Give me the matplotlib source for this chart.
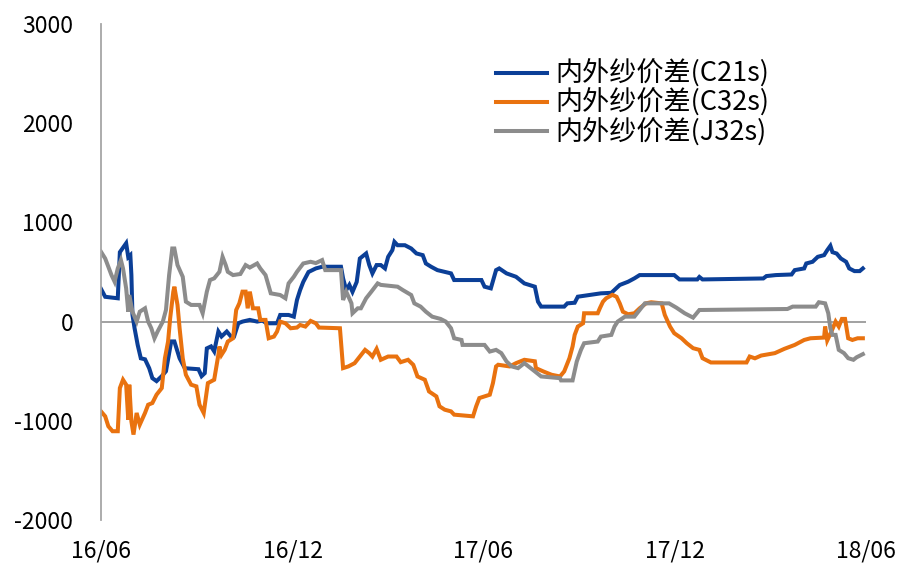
import matplotlib
matplotlib.use("Agg")
import matplotlib.pyplot as plt
import matplotlib.dates as mdates
import pandas as pd

plt.rcParams['font.family'] = ['Noto Sans CJK SC', 'DejaVu Sans']
plt.rcParams['axes.unicode_minus'] = False

# 内外纱价差(C21s)
c21_dates = ['2016-06-01', '2016-06-05', '2016-06-17', '2016-06-19', '2016-06-25', '2016-06-27',
             '2016-06-29', '2016-06-30', '2016-07-01', '2016-07-03', '2016-07-06', '2016-07-09',
             '2016-07-13', '2016-07-17', '2016-07-20', '2016-07-24', '2016-07-29', '2016-08-02',
             '2016-08-07', '2016-08-10', '2016-08-15', '2016-08-20', '2016-09-02', '2016-09-05',
             '2016-09-08', '2016-09-10', '2016-09-14', '2016-09-17', '2016-09-21', '2016-09-24',
             '2016-09-29', '2016-10-03', '2016-10-06', '2016-10-10', '2016-10-14', '2016-10-21',
             '2016-10-28', '2016-11-02', '2016-11-06', '2016-11-16', '2016-11-19', '2016-11-27',
             '2016-12-02', '2016-12-05', '2016-12-08', '2016-12-11', '2016-12-16', '2016-12-23',
             '2016-12-29', '2017-01-16', '2017-01-18', '2017-01-21', '2017-01-24', '2017-01-27',
             '2017-01-31', '2017-02-03', '2017-02-09', '2017-02-12', '2017-02-15', '2017-02-19',
             '2017-02-23', '2017-02-27', '2017-03-02', '2017-03-06', '2017-03-08', '2017-03-11',
             '2017-03-18', '2017-03-24', '2017-03-29', '2017-04-04', '2017-04-07', '2017-04-12',
             '2017-04-18', '2017-05-01', '2017-05-04', '2017-05-30', '2017-06-02', '2017-06-08',
             '2017-06-13', '2017-06-16', '2017-06-23', '2017-07-02', '2017-07-10', '2017-07-20',
             '2017-07-23', '2017-07-26', '2017-08-17', '2017-08-20', '2017-08-27', '2017-08-30',
             '2017-09-21', '2017-10-01', '2017-10-09', '2017-10-17', '2017-10-23', '2017-10-28',
             '2017-11-30', '2017-12-05', '2017-12-22', '2017-12-24', '2017-12-27', '2018-02-23',
             '2018-02-26', '2018-03-07', '2018-03-22', '2018-03-25', '2018-04-03', '2018-04-05',
             '2018-04-11', '2018-04-16', '2018-04-22', '2018-04-25', '2018-04-28', '2018-04-30',
             '2018-05-04', '2018-05-08', '2018-05-13', '2018-05-16', '2018-05-21', '2018-05-26',
             '2018-05-29']
c21_vals = [330, 250, 235, 700, 790, 650,
            670, 470, 70, -65, -235, -370,
            -380, -470, -570, -600, -550, -500,
            -200, -200, -370, -470, -480, -550,
            -520, -270, -250, -300, -100, -150,
            -100, -150, -150, -17, 0, 17,
            0, 10, -17, -17, 67, 67,
            50, 218, 318, 400, 500, 536,
            553, 553, 436, 318, 370, 300,
            400, 636, 687, 570, 486, 570,
            570, 536, 653, 720, 804, 770,
            770, 737, 687, 670, 586, 553,
            519, 486, 419, 419, 352, 335,
            519, 536, 486, 452, 385, 352,
            201, 151, 151, 184, 190, 251,
            285, 290, 369, 402, 436, 469,
            469, 425, 425, 450, 425, 435,
            459, 469, 475, 519, 536, 586,
            603, 653, 670, 720, 764, 700,
            686, 636, 603, 536, 509, 509,
            536]

# 内外纱价差(C32s)
c32_dates = ['2016-06-01', '2016-06-05', '2016-06-08', '2016-06-12', '2016-06-17', '2016-06-19',
             '2016-06-22', '2016-06-25', '2016-06-27', '2016-06-28', '2016-06-30', '2016-07-02',
             '2016-07-05', '2016-07-08', '2016-07-13', '2016-07-16', '2016-07-20', '2016-07-24',
             '2016-07-29', '2016-08-01', '2016-08-04', '2016-08-06', '2016-08-09', '2016-08-10',
             '2016-08-13', '2016-08-15', '2016-08-18', '2016-08-21', '2016-08-26', '2016-08-31',
             '2016-09-03', '2016-09-07', '2016-09-11', '2016-09-17', '2016-09-21', '2016-09-22',
             '2016-09-24', '2016-09-27', '2016-09-30', '2016-10-05', '2016-10-08', '2016-10-11',
             '2016-10-14', '2016-10-17', '2016-10-19', '2016-10-21', '2016-10-24', '2016-10-29',
             '2016-10-31', '2016-11-05', '2016-11-08', '2016-11-13', '2016-11-16', '2016-11-19',
             '2016-11-24', '2016-11-29', '2016-12-05', '2016-12-08', '2016-12-13', '2016-12-18',
             '2016-12-23', '2016-12-26', '2017-01-15', '2017-01-18', '2017-01-23', '2017-01-29',
             '2017-02-03', '2017-02-08', '2017-02-12', '2017-02-15', '2017-02-19', '2017-02-23',
             '2017-03-02', '2017-03-10', '2017-03-14', '2017-03-21', '2017-03-26', '2017-03-30',
             '2017-04-06', '2017-04-10', '2017-04-17', '2017-04-20', '2017-04-25', '2017-05-01',
             '2017-05-04', '2017-05-22', '2017-05-25', '2017-05-28', '2017-06-07', '2017-06-10',
             '2017-06-13', '2017-06-15', '2017-06-26', '2017-07-02', '2017-07-10', '2017-07-20',
             '2017-07-21', '2017-07-28', '2017-08-05', '2017-08-13', '2017-08-17', '2017-08-22',
             '2017-08-25', '2017-08-27', '2017-08-30', '2017-09-04', '2017-09-05', '2017-09-18',
             '2017-09-20', '2017-09-23', '2017-09-26', '2017-10-02', '2017-10-06', '2017-10-09',
             '2017-10-12', '2017-10-17', '2017-10-23', '2017-10-28', '2017-11-03', '2017-11-08',
             '2017-11-18', '2017-11-21', '2017-11-26', '2017-11-30', '2017-12-07', '2017-12-12',
             '2017-12-18', '2017-12-24', '2017-12-27', '2018-01-04', '2018-02-07', '2018-02-10',
             '2018-02-15', '2018-02-21', '2018-03-06', '2018-03-15', '2018-03-25', '2018-04-03',
             '2018-04-09', '2018-04-22', '2018-04-23', '2018-04-25', '2018-04-29', '2018-05-03',
             '2018-05-06', '2018-05-09', '2018-05-12', '2018-05-15', '2018-05-19', '2018-05-24',
             '2018-05-29']
c32_vals = [-905, -955, -1055, -1105, -1105, -670,
            -586, -636, -988, -636, -1005, -1139,
            -921, -1039, -921, -838, -821, -737,
            -670, -369, -201, 34, 302, 352,
            168, -67, -369, -536, -636, -653,
            -838, -921, -620, -586, -335, -251,
            -335, -285, -201, -168, 117, 184,
            302, 302, 134, 302, 134, 134,
            17, 17, -168, -151, -100, 0,
            -17, -67, -60, -34, -50, 7,
            -17, -60, -67, -469, -452, -419,
            -352, -285, -318, -352, -275, -385,
            -352, -352, -409, -385, -436, -553,
            -586, -704, -754, -854, -888, -905,
            -938, -955, -854, -771, -737, -620,
            -452, -435, -452, -419, -385, -400,
            -469, -502, -536, -553, -502, -369,
            -251, -134, -50, -17, 84, 84,
            134, 201, 235, 270, 250, 184,
            100, 74, 84, 134, 184, 195,
            184, 67, -50, -117, -168, -218,
            -268, -285, -369, -412, -412, -352,
            -370, -342, -318, -275, -235, -185,
            -168, -161, -50, -190, -100, 0,
            -50, 27, 27, -168, -185, -168,
            -168]

# 内外纱价差(J32s)
j32_dates = ['2016-06-01', '2016-06-05', '2016-06-08', '2016-06-11', '2016-06-14', '2016-06-17',
             '2016-06-20', '2016-06-22', '2016-06-25', '2016-06-27', '2016-06-28', '2016-07-01',
             '2016-07-05', '2016-07-08', '2016-07-13', '2016-07-16', '2016-07-19', '2016-07-22',
             '2016-07-25', '2016-07-30', '2016-08-02', '2016-08-05', '2016-08-08', '2016-08-10',
             '2016-08-13', '2016-08-18', '2016-08-21', '2016-08-26', '2016-09-03', '2016-09-06',
             '2016-09-10', '2016-09-13', '2016-09-17', '2016-09-22', '2016-09-25', '2016-09-28',
             '2016-09-30', '2016-10-05', '2016-10-12', '2016-10-17', '2016-10-21', '2016-10-28',
             '2016-10-31', '2016-11-05', '2016-11-10', '2016-11-19', '2016-11-24', '2016-11-27',
             '2016-12-02', '2016-12-05', '2016-12-11', '2016-12-18', '2016-12-23', '2016-12-29',
             '2017-01-01', '2017-01-16', '2017-01-18', '2017-01-21', '2017-01-26', '2017-01-27',
             '2017-02-01', '2017-02-04', '2017-02-09', '2017-02-14', '2017-02-20', '2017-02-23',
             '2017-03-11', '2017-03-16', '2017-03-24', '2017-03-27', '2017-04-02', '2017-04-07',
             '2017-04-13', '2017-04-21', '2017-04-26', '2017-05-01', '2017-05-04', '2017-05-11',
             '2017-05-12', '2017-06-02', '2017-06-07', '2017-06-13', '2017-06-18', '2017-06-23',
             '2017-06-28', '2017-07-04', '2017-07-10', '2017-07-20', '2017-07-26', '2017-08-13',
             '2017-08-14', '2017-08-25', '2017-08-29', '2017-09-02', '2017-09-05', '2017-09-18',
             '2017-09-21', '2017-10-01', '2017-10-04', '2017-10-07', '2017-10-14', '2017-10-23',
             '2017-10-28', '2017-11-02', '2017-11-25', '2017-12-02', '2017-12-10', '2017-12-18',
             '2017-12-24', '2018-03-18', '2018-03-23', '2018-04-14', '2018-04-17', '2018-04-23',
             '2018-04-26', '2018-04-28', '2018-04-30', '2018-05-03', '2018-05-06', '2018-05-11',
             '2018-05-15', '2018-05-20', '2018-05-23', '2018-05-29']
j32_vals = [704, 636, 553, 469, 402, 536,
            620, 536, 335, 100, 268, 100,
            0, 100, 134, 0, -67, -168,
            -100, 0, 117, 469, 737, 737,
            570, 452, 201, 168, 168, 84,
            302, 419, 436, 502, 653, 570,
            502, 469, 480, 570, 545, 586,
            536, 469, 285, 268, 235, 385,
            452, 502, 586, 603, 590, 620,
            519, 519, 218, 302, 184, 84,
            134, 134, 235, 302, 385, 370,
            352, 318, 268, 184, 151, 100,
            50, 27, 0, -67, -168, -185,
            -235, -235, -302, -285, -318, -402,
            -452, -469, -419, -502, -553, -570,
            -593, -593, -402, -285, -218, -201,
            -151, -134, -50, 0, 50, 50,
            117, 184, 184, 141, 84, 40,
            117, 127, 151, 151, 195, 184,
            84, -67, -134, -134, -285, -318,
            -369, -385, -360, -328]

labels = ['内外纱价差(C21s)', '内外纱价差(C32s)', '内外纱价差(J32s)']
colors = ['#0b3f97', '#e9720f', '#8c8c8c']
tick_dates = ['2016-06-01', '2016-12-01', '2017-06-01', '2017-12-01', '2018-06-01']
y_ticks = [-2000, -1000, 0, 1000, 2000, 3000]

fig = plt.figure(figsize=(9.02, 5.68), dpi=100)
ax = fig.add_axes([101 / 902, 48 / 568, 765 / 902, 496 / 568])

series = [(c21_dates, c21_vals), (c32_dates, c32_vals), (j32_dates, j32_vals)]
for (d, v), lab, col in zip(series, labels, colors):
    ax.plot(pd.to_datetime(d), v, color=col, lw=2.9, label=lab, solid_joinstyle='miter')

ax.axhline(0, color='#9a9a9a', lw=1.3, zorder=0)

ax.set_xlim(pd.Timestamp('2016-06-01'), pd.Timestamp('2018-06-01'))
ax.set_ylim(-2000, 3000)
ax.set_xticks(pd.to_datetime(tick_dates))
ax.xaxis.set_major_formatter(mdates.DateFormatter('%y/%m'))
ax.set_yticks(y_ticks)
ax.tick_params(axis='both', length=0, labelsize=16.5, colors='black')
ax.tick_params(axis='x', pad=14)
ax.tick_params(axis='y', pad=20)

for side in ['top', 'right', 'bottom']:
    ax.spines[side].set_visible(False)
ax.spines['left'].set_color('#a6a6a6')
ax.spines['left'].set_linewidth(1.3)

ax.legend(loc='upper left', bbox_to_anchor=(496 / 902, 1 - 60 / 568),
          bbox_transform=fig.transFigure, frameon=False, fontsize=19.5,
          handlelength=1.9, handletextpad=0.28, labelspacing=0.03,
          borderpad=0, borderaxespad=0)

fig.savefig('out.png', dpi=100)
